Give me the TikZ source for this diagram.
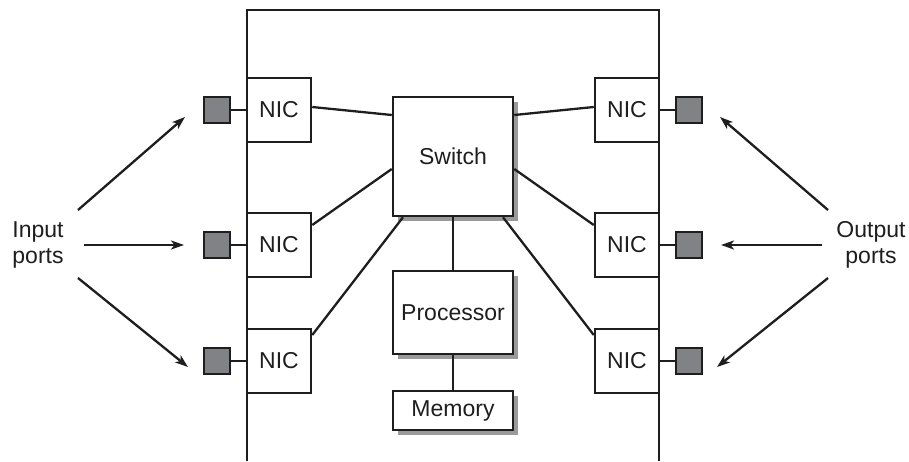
\documentclass[tikz,border=0pt]{standalone}
\usepackage{fontspec}
\setmainfont{Liberation Sans}
\usetikzlibrary{arrows.meta,calc}
\definecolor{ink}{HTML}{1E1E1E}
\definecolor{portgray}{HTML}{808285}
\definecolor{shadowgray}{HTML}{9A9A9A}
\begin{document}
\begin{tikzpicture}[x=1pt,y=-1pt,
  line width=2.4pt,
  every node/.style={font=\fontsize{23}{26}\selectfont, text=ink},
  nicbox/.style={draw=ink, fill=white, line width=2.5pt, minimum width=64pt, minimum height=64pt, inner sep=0pt},
  portbox/.style={draw=ink, fill=portgray, line width=2.6pt, minimum width=26pt, minimum height=26pt, inner sep=0pt},
  unitbox/.style={draw=ink, fill=white, line width=2.5pt, minimum width=120pt, inner sep=0pt,
    preaction={fill=shadowgray, transform canvas={shift={(5pt,-5pt)}}}},
  conn/.style={draw=ink, line width=2.3pt},
  arr/.style={draw=ink, line width=2.3pt, -{Stealth[length=13pt,width=9pt,inset=3.5pt]}},
  lbl/.style={align=center, font=\fontsize{23}{26}\selectfont}
]
\useasboundingbox (0,0) rectangle (909,461);
% enclosure
\draw[ink, line width=2.5pt] (247,461) -- (247,10) -- (659,10) -- (659,461);

% central units
\node[unitbox, minimum height=119pt] (sw) at (453,156.5) {Switch};
\node[unitbox, minimum height=83pt] (proc) at (453,312.5) {Processor};
\node[unitbox, minimum height=39pt] (mem) at (453,410.5) {Memory};

% NICs
\node[nicbox] (nl1) at (279,110) {NIC};
\node[nicbox] (nl2) at (279,245) {NIC};
\node[nicbox] (nl3) at (279,361) {NIC};
\node[nicbox] (nr1) at (627,110) {NIC};
\node[nicbox] (nr2) at (627,245) {NIC};
\node[nicbox] (nr3) at (627,361) {NIC};

% ports
\node[portbox] (pl1) at (217,110) {};
\node[portbox] (pl2) at (217,245) {};
\node[portbox] (pl3) at (217,361) {};
\node[portbox] (pr1) at (689,110) {};
\node[portbox] (pr2) at (689,245) {};
\node[portbox] (pr3) at (689,361) {};

\foreach \i in {1,2,3}{
  \draw[conn] (pl\i.east) -- (nl\i.west);
  \draw[conn] (nr\i.east) -- (pr\i.west);
}

% switch links
\draw[conn] ([yshift=3pt]nl1.east) -- ([yshift=41.5pt]sw.west);
\draw[conn] ([yshift=20pt]nl2.east) -- ([yshift=-12.5pt]sw.west);
\draw[conn] ([yshift=26pt]nl3.east) -- ([xshift=-50pt]sw.south);
\draw[conn] ([yshift=3pt]nr1.west) -- ([yshift=41.5pt]sw.east);
\draw[conn] ([yshift=20pt]nr2.west) -- ([yshift=-12.5pt]sw.east);
\draw[conn] ([yshift=26pt]nr3.west) -- ([xshift=50pt]sw.south);
\draw[conn] (sw.south) -- (proc.north);
\draw[conn] (proc.south) -- (mem.north);

% labels
\node[lbl] (inl) at (38,245) {Input\\ports};
\node[lbl] (outl) at (871,245) {Output\\ports};

% arrows
\coordinate (ia1) at (78,210);
\coordinate (ia2) at (84,245);
\coordinate (ia3) at (78,278);
\coordinate (it1) at (185,117);
\coordinate (it2) at (184,245);
\coordinate (it3) at (188,367);
\coordinate (oa1) at (828,210);
\coordinate (oa2) at (822,245);
\coordinate (oa3) at (828,278);
\coordinate (ot1) at (720,117);
\coordinate (ot2) at (721,245);
\coordinate (ot3) at (717,367);
\foreach \i in {1,2,3}{
  \draw[arr] (ia\i) -- (it\i);
  \draw[arr] (oa\i) -- (ot\i);
}
\end{tikzpicture}
\end{document}
